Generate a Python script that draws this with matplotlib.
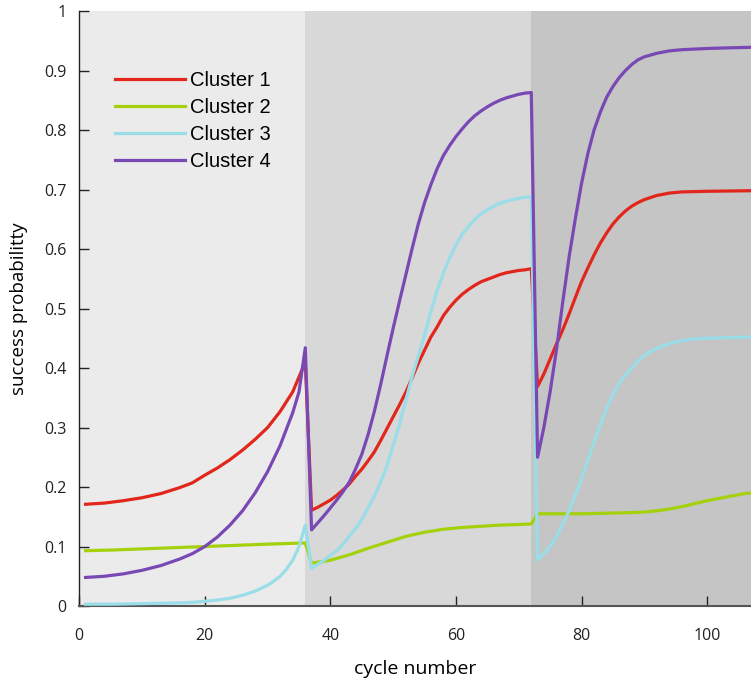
import matplotlib
matplotlib.use('Agg')
import matplotlib.pyplot as plt

# 数据：各簇成功概率（按周期读取）
cyc_c1 = [1, 4, 7, 10, 13, 16, 18, 20, 22, 24, 26, 28, 30, 32, 34, 36,
          37, 38, 39, 40, 41, 42, 43, 44, 45, 46, 47, 48, 49, 50, 51, 52, 53, 54,
          55, 56, 57, 58, 59, 60, 61, 62, 63, 64, 65, 66, 67, 68, 69, 70, 71, 72,
          73, 74, 75, 76, 77, 78, 79, 80, 81, 82, 83, 84, 85, 86, 87, 88, 89, 90,
          92, 94, 96, 100, 107]
p_c1 = [0.171, 0.173, 0.177, 0.182, 0.189, 0.199, 0.207, 0.220, 0.232, 0.246,
        0.262, 0.280, 0.300, 0.327, 0.360, 0.410,
        0.161, 0.166, 0.172, 0.178, 0.186, 0.195, 0.205, 0.218, 0.230, 0.244,
        0.259, 0.278, 0.298, 0.318, 0.338, 0.359, 0.383, 0.408, 0.430, 0.452,
        0.469, 0.488, 0.502, 0.514, 0.524, 0.532, 0.539, 0.545, 0.549, 0.553,
        0.557, 0.560, 0.562, 0.564, 0.565, 0.567,
        0.369, 0.390, 0.415, 0.440, 0.464, 0.490, 0.518, 0.545, 0.568, 0.590,
        0.610, 0.627, 0.642, 0.654, 0.664, 0.672, 0.678, 0.683,
        0.690, 0.694, 0.696, 0.697, 0.698]

cyc_c2 = [1, 5, 10, 15, 20, 25, 30, 36,
          37, 40, 43, 46, 49, 52, 55, 58, 61, 64, 67, 70, 72,
          73, 76, 80, 84, 88, 90, 92, 94, 96, 98, 100, 102, 104, 106, 107]
p_c2 = [0.093, 0.094, 0.096, 0.098, 0.100, 0.102, 0.104, 0.106,
        0.072, 0.077, 0.086, 0.097, 0.107, 0.117, 0.124, 0.129, 0.132, 0.134,
        0.136, 0.137, 0.138,
        0.155, 0.155, 0.155, 0.156, 0.157, 0.158, 0.160, 0.163, 0.167, 0.172,
        0.177, 0.181, 0.185, 0.189, 0.190]

cyc_c3 = [1, 5, 10, 15, 18, 20, 22, 24, 26, 28, 30, 31, 32, 33, 34, 35, 36,
          37, 38, 39, 40, 41, 42, 43, 44, 45, 46, 47, 48, 49, 50, 51, 52, 53, 54,
          55, 56, 57, 58, 59, 60, 61, 62, 63, 64, 65, 66, 67, 68, 69, 70, 71, 72,
          73, 74, 75, 76, 77, 78, 79, 80, 81, 82, 83, 84, 85, 86, 87, 88, 89, 90,
          91, 92, 94, 96, 98, 100, 103, 107]
p_c3 = [0.003, 0.003, 0.004, 0.005, 0.006, 0.008, 0.010, 0.013, 0.018, 0.025,
        0.035, 0.042, 0.050, 0.062, 0.077, 0.100, 0.136,
        0.063, 0.070, 0.077, 0.085, 0.093, 0.104, 0.117, 0.130, 0.145, 0.165,
        0.185, 0.208, 0.235, 0.270, 0.305, 0.345, 0.385, 0.420, 0.455, 0.495,
        0.530, 0.560, 0.585, 0.607, 0.625, 0.638, 0.650, 0.659, 0.666, 0.672,
        0.677, 0.680, 0.683, 0.685, 0.687, 0.688,
        0.077, 0.088, 0.100, 0.117, 0.137, 0.160, 0.186, 0.214, 0.245, 0.275,
        0.305, 0.332, 0.355, 0.374, 0.388, 0.400, 0.412, 0.421, 0.428, 0.433,
        0.441, 0.446, 0.449, 0.450, 0.451, 0.452]

cyc_c4 = [1, 4, 7, 10, 13, 16, 18, 20, 22, 24, 26, 28, 30, 32, 34, 35, 36,
          37, 38, 39, 40, 41, 42, 43, 44, 45, 46, 47, 48, 49, 50, 51, 52, 53, 54,
          55, 56, 57, 58, 59, 60, 61, 62, 63, 64, 65, 66, 67, 68, 69, 70, 71, 72,
          73, 74, 75, 76, 77, 78, 79, 80, 81, 82, 83, 84, 85, 86, 87, 88, 89, 90,
          92, 94, 96, 98, 100, 103, 107]
p_c4 = [0.048, 0.050, 0.054, 0.060, 0.068, 0.079, 0.088, 0.100, 0.116, 0.136,
        0.160, 0.190, 0.226, 0.270, 0.325, 0.360, 0.434,
        0.128, 0.140, 0.152, 0.165, 0.178, 0.192, 0.208, 0.230, 0.255, 0.288,
        0.327, 0.372, 0.420, 0.467, 0.512, 0.556, 0.600, 0.642, 0.678, 0.708,
        0.735, 0.757, 0.774, 0.789, 0.802, 0.814, 0.824, 0.832, 0.839, 0.845,
        0.850, 0.854, 0.857, 0.860, 0.862, 0.863,
        0.250, 0.300, 0.360, 0.430, 0.510, 0.585, 0.650, 0.710, 0.760, 0.800,
        0.830, 0.855, 0.873, 0.888, 0.900, 0.910, 0.918, 0.923,
        0.929, 0.933, 0.935, 0.936, 0.937, 0.938, 0.939]

labels = ['Cluster 1', 'Cluster 2', 'Cluster 3', 'Cluster 4']
colors = ['#e2261c', '#a5d10c', '#99dde9', '#7a48b5']

# 阶段分界与背景
phase_edges = [0, 36, 72, 107]
phase_colors = ['#eaebea', '#d8d8d8', '#c4c5c4']

fig = plt.figure(figsize=(7.51, 6.80), dpi=100)
ax = fig.add_axes([0.1056, 0.1088, 0.8944, 0.875])

for i in range(3):
    ax.axvspan(phase_edges[i], phase_edges[i + 1], color=phase_colors[i], lw=0, zorder=0)

series = [(cyc_c1, p_c1), (cyc_c2, p_c2), (cyc_c3, p_c3), (cyc_c4, p_c4)]
for (xs, ys), lab, col in zip(series, labels, colors):
    ax.plot(xs, ys, color=col, lw=2.3, label=lab, solid_joinstyle='round', zorder=3)

ax.set_xlim(0, 107)
ax.set_ylim(0, 1)
ax.set_xticks([0, 20, 40, 60, 80, 100])
ax.set_yticks([0, 0.1, 0.2, 0.3, 0.4, 0.5, 0.6, 0.7, 0.8, 0.9, 1])
ax.set_yticklabels(['0', '0.1', '0.2', '0.3', '0.4', '0.5', '0.6', '0.7', '0.8', '0.9', '1'])

for s in ['top', 'right']:
    ax.spines[s].set_visible(False)
ax.spines['left'].set_color('#222222')
ax.spines['bottom'].set_color('#555555')
ax.spines['left'].set_linewidth(1.0)
ax.spines['bottom'].set_linewidth(1.5)
ax.tick_params(direction='in', length=7, width=1, colors='#222222', labelsize=11.5, pad=9)
ax.tick_params(axis='x', pad=16)
for t in ax.get_xticklabels() + ax.get_yticklabels():
    t.set_family('Open Sans')

ax.set_xlabel('cycle number', fontsize=14, family='Open Sans', labelpad=11)
ax.set_ylabel('success probabilitty', fontsize=13.5, family='Open Sans', labelpad=12)

leg = ax.legend(loc='upper left', bbox_to_anchor=(0.026, 0.93), frameon=False,
                handlelength=3.5, handletextpad=0.25, labelspacing=0.4,
                prop={'family': 'Liberation Sans', 'size': 14.5})

fig.savefig('out.png', dpi=100)
